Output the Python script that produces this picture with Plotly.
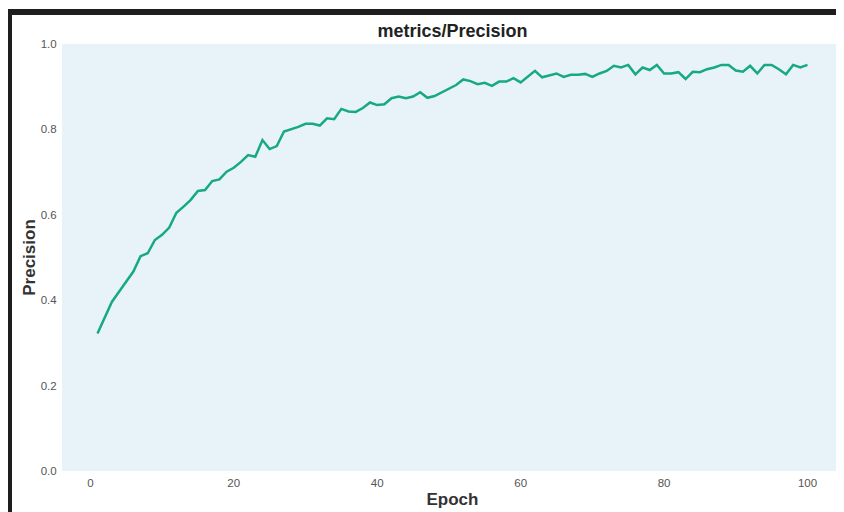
import plotly.graph_objects as go

epochs = list(range(1, 101))
precision = [
    0.322, 0.358, 0.396, 0.420, 0.443, 0.467, 0.503, 0.510, 0.541, 0.553,
    0.570, 0.605, 0.619, 0.635, 0.656, 0.658, 0.679, 0.683, 0.701, 0.710,
    0.724, 0.740, 0.736, 0.775, 0.754, 0.761, 0.795, 0.800, 0.806, 0.813,
    0.813, 0.809, 0.826, 0.824, 0.848, 0.842, 0.841, 0.850, 0.863, 0.857,
    0.859, 0.873, 0.877, 0.873, 0.877, 0.887, 0.874, 0.878, 0.887, 0.896,
    0.904, 0.917, 0.913, 0.906, 0.909, 0.902, 0.912, 0.912, 0.920, 0.910,
    0.923, 0.937, 0.922, 0.927, 0.931, 0.923, 0.928, 0.928, 0.930, 0.923,
    0.931, 0.937, 0.949, 0.945, 0.951, 0.929, 0.945, 0.939, 0.951, 0.931,
    0.931, 0.934, 0.918, 0.935, 0.934, 0.941, 0.945, 0.951, 0.951, 0.938,
    0.935, 0.949, 0.931, 0.951, 0.951, 0.941, 0.929, 0.951, 0.945, 0.951,
]
x_ticks = [0, 20, 40, 60, 80, 100]
y_ticks = [0.0, 0.2, 0.4, 0.6, 0.8, 1.0]

# the page adds an 8px body margin, so the figure is laid out 8px smaller
W, H = 836, 504
L, R, T, B = 54, 1, 36, 41
pw, ph = W - L - R, H - T - B

def px(x):
    return (x - L) / pw

def py(y):
    return (H - B - y) / ph

fig = go.Figure()
fig.add_trace(go.Scatter(
    x=epochs, y=precision, mode="lines",
    line=dict(color="#17a884", width=2.5),
    showlegend=False,
))

font_family = "Liberation Sans, Arial, sans-serif"
fig.update_layout(
    width=W, height=H,
    margin=dict(l=L, r=R, t=T, b=B),
    paper_bgcolor="#ffffff",
    plot_bgcolor="#e8f3f9",
    font=dict(family=font_family, color="#555555", size=11.5),
    title=dict(text="<b>metrics/Precision</b>", x=0.5, xref="paper",
               y=1 - 23 / H, yanchor="middle",
               font=dict(size=18, color="#222222", family=font_family)),
    xaxis=dict(range=[-3.95, 104.95], tickvals=x_ticks,
               ticktext=[str(v) for v in x_ticks],
               showgrid=False, zeroline=False, showline=False,
               ticks="outside", ticklen=1, tickcolor="rgba(0,0,0,0)",
               title=dict(text="<b>Epoch</b>", standoff=5,
                          font=dict(size=17, color="#333333"))),
    yaxis=dict(range=[0, 1], tickvals=y_ticks,
               ticktext=[f"{v:.1f}" for v in y_ticks],
               showgrid=False, zeroline=False, showline=False,
               ticks="outside", ticklen=2, tickcolor="rgba(0,0,0,0)",
               title=dict(text="<b>Precision</b>", standoff=0,
                          font=dict(size=17, color="#333333"))),
    shapes=[
        dict(type="rect", xref="paper", yref="paper",
             x0=px(-4), x1=px(840), y0=py(7), y1=py(1),
             fillcolor="#1e1e1e", line=dict(width=0), layer="above"),
        dict(type="rect", xref="paper", yref="paper",
             x0=px(-4), x1=px(4), y0=py(508), y1=py(1),
             fillcolor="#1e1e1e", line=dict(width=0), layer="above"),
    ],
)

fig.write_html("out.html")
